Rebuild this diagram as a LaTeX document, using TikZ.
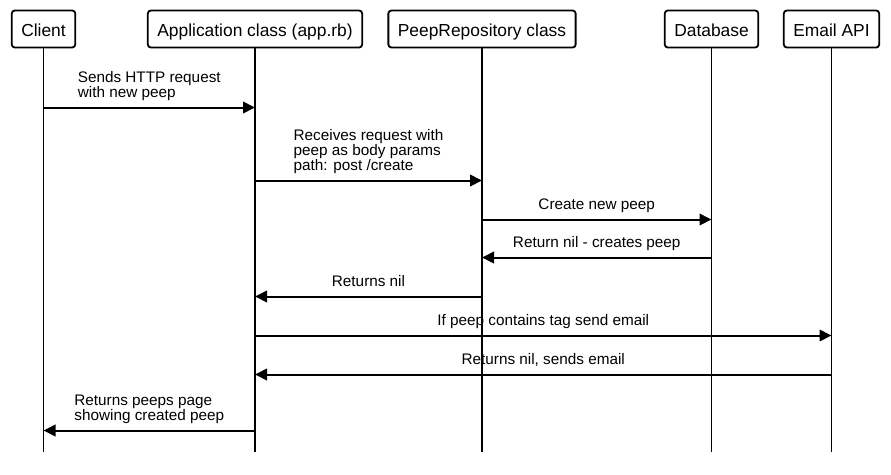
\documentclass[tikz,border=0pt]{standalone}
\usepackage{fontspec}
\setmainfont{Liberation Sans}
\usetikzlibrary{arrows.meta}

\begin{document}
\begin{tikzpicture}[x=1pt,y=-1pt,
  actor/.style={draw,line width=1.8pt,rounded corners=3pt,minimum height=37pt,
    inner xsep=9.5pt,text height=15pt,text depth=1pt,font=\fontsize{17.4}{20}\selectfont},
  life/.style={line width=1.8pt},
  msg/.style={line width=2pt,-{Triangle[length=12pt,width=11.5pt]}},
  lbl/.style={font=\fontsize{15.3}{15}\selectfont,align=left,above=4pt,
    inner sep=2pt,text depth=3.2pt}]
 \useasboundingbox (0,0) rectangle (891,474);

 \node [actor] (client) at (43.5,29) {Client};
 \node [actor] (app)    at (255,29)  {Application class (app.rb)};
 \node [actor] (repo)   at (482,29)  {PeepRepository class};
 \node [actor] (db)     at (711.5,29) {Database};
 \node [actor] (email)  at (831.5,29) {Email API};

 \coordinate (bottom) at (0,452);

 \draw [life] (client) -- (client |- bottom);
 \draw [life] (app)    -- (app |- bottom);
 \draw [life] (repo)   -- (repo |- bottom);
 \draw [life] (db)     -- (db |- bottom);
 \draw [life] (email)  -- (email |- bottom);

 \coordinate (m1) at (0,107.5);
 \coordinate (m2) at (0,180.5);
 \coordinate (m3) at (0,219.5);
 \coordinate (m4) at (0,257.5);
 \coordinate (m5) at (0,296.5);
 \coordinate (m6) at (0,335.5);
 \coordinate (m7) at (0,374.5);
 \coordinate (m8) at (0,430.5);

 \draw [msg] (client |- m1) -- node [lbl] {Sends HTTP request\\with new peep} (app |- m1);
 \draw [msg] (app |- m2) -- node [lbl] {Receives request with\\peep as body params\\path: post /create} (repo |- m2);
 \draw [msg] (repo |- m3) -- node [lbl] {Create new peep} (db |- m3);
 \draw [msg] (db |- m4) -- node [lbl] {Return nil - creates peep} (repo |- m4);
 \draw [msg] (repo |- m5) -- node [lbl] {Returns nil} (app |- m5);
 \draw [msg] (app |- m6) -- node [lbl] {If peep contains tag send email} (email |- m6);
 \draw [msg] (email |- m7) -- node [lbl] {Returns nil, sends email} (app |- m7);
 \draw [msg] (app |- m8) -- node [lbl] {Returns peeps page\\showing created peep} (client |- m8);

\end{tikzpicture}
\end{document}
